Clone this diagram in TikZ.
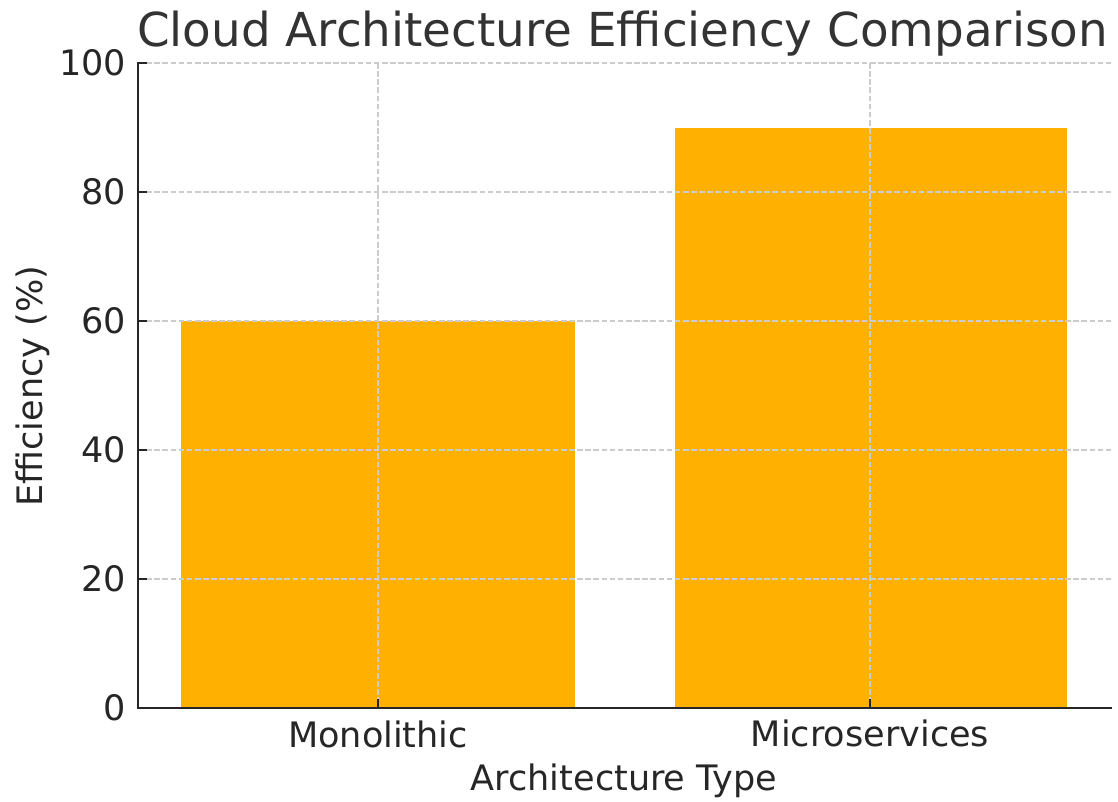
\documentclass[tikz,border=0pt]{standalone}
\usepackage{fontspec}
\setmainfont{DejaVu Sans}
\usepackage{tikz}
\definecolor{barorange}{HTML}{FFB000}
\definecolor{gridgray}{HTML}{CCCCCC}
\definecolor{axisdark}{HTML}{262626}
\definecolor{titlegray}{HTML}{333333}

\begin{document}
\begin{tikzpicture}
  [x=0.75pt,y=-0.75pt,every node/.style={inner sep=0pt,text=axisdark,font=\fontsize{26.3}{30}\selectfont},
   bar/.style={fill=barorange,draw=none},
   gridline/.style={gridgray,line width=0.9pt,dash pattern=on 4.2pt off 1.9pt},
   spine/.style={axisdark,line width=1.9pt,line cap=rect}]
  \useasboundingbox (0,0) rectangle (1118,801);
  % bars: monolithic 60, microservices 90
  \fill[bar] (181,708) rectangle (575,321);
  \fill[bar] (675,708) rectangle (1067,127.5);
  % grid
  \foreach \v in {0,20,40,60,80,100}
    \draw[gridline] (138,708-6.45*\v) -- (1111,708-6.45*\v);
  \foreach \x in {378,870}
    \draw[gridline] (\x,63) -- (\x,708);
  % axes and ticks
  \draw[spine] (138,63) -- (138,708) -- (1111,708);
  \foreach \v in {0,20,40,60,80,100}{
    \draw[axisdark,line width=1.6pt] (138,708-6.45*\v) -- (147,708-6.45*\v);
    \node[anchor=east] (t\v) at (126.5,708-6.45*\v) {\v};
  }
  \foreach \x in {378,870}
    \draw[axisdark,line width=1.6pt] (\x,708) -- (\x,699);
  \node[anchor=base] (mono) at (378,747) {Monolithic};
  \node[anchor=base] (micro) at (870,746) {Microservices};
  \node[anchor=base] (xlabel) at (624,790) {Architecture Type};
  \node[anchor=base,rotate=90] (ylabel) at (42,386) {Efficiency (\%)};
  \node[anchor=base,text=titlegray,font=\fontsize{35.1}{40}\selectfont] (title) at (622.5,46) {Cloud Architecture Efficiency Comparison};
\end{tikzpicture}
\end{document}
